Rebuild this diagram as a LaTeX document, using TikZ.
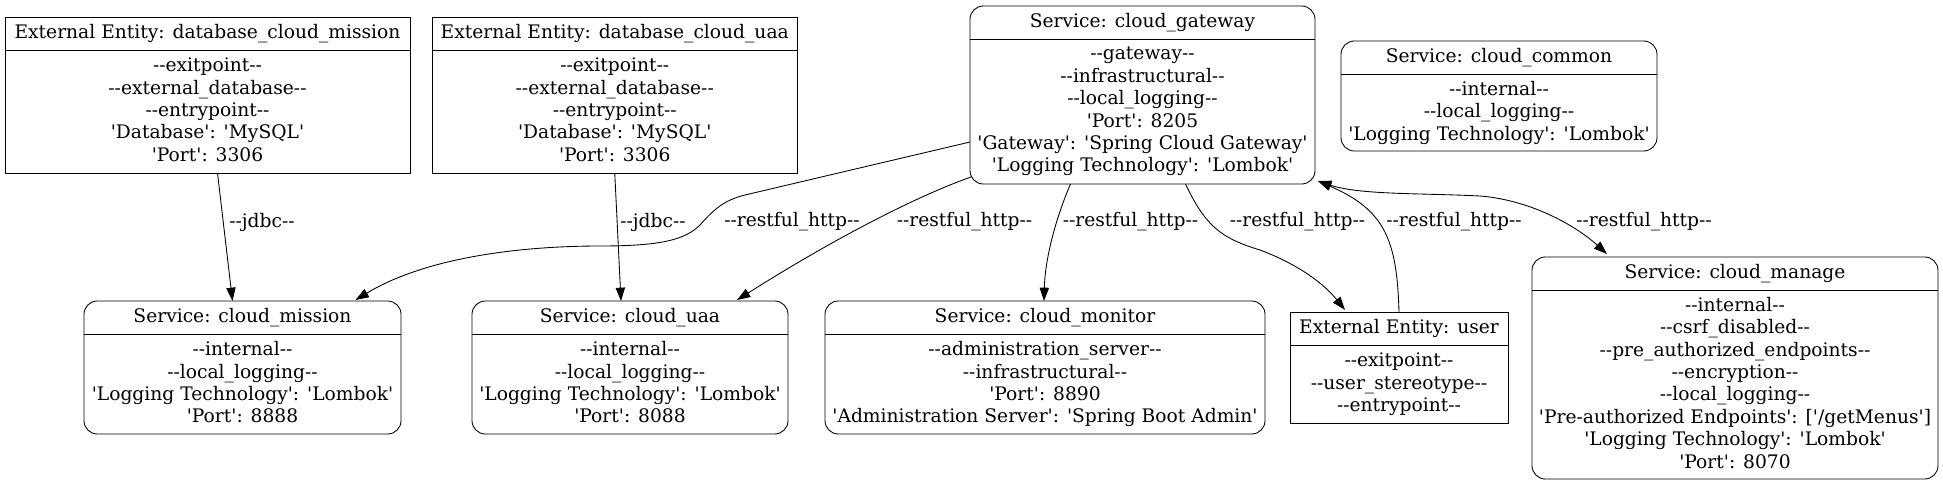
\documentclass[tikz,border=0pt]{standalone}
\usepackage{fontspec}
\newfontfamily\dv{DejaVu Serif}
\usetikzlibrary{arrows.meta,calc}
\begin{document}
\begin{tikzpicture}[x=0.75pt,y=-0.75pt,
  boxbase/.style={draw, line width=0.65pt, inner sep=0pt, outer sep=0pt},
  svc/.style={boxbase, rounded corners=10pt},
  ext/.style={boxbase},
  txt/.style={font=\dv\fontsize{14}{16.8}\selectfont, align=center, inner sep=0pt, execute at begin node=\strut, execute at end node=\strut},
  lbl/.style={font=\dv\fontsize{14}{16.8}\selectfont, inner sep=0pt},
  conn/.style={draw, line width=0.65pt, -{Triangle[length=10pt,width=7pt]}},
  conntwo/.style={draw, line width=0.65pt, {Triangle[length=10pt,width=7pt]}-{Triangle[length=10pt,width=7pt]}},
  divline/.style={draw, line width=0.65pt}]
\fill[white] (0,0) rectangle (1943,485);
\useasboundingbox (0,0) rectangle (1943,485);

% boxes
\node[ext, minimum width=303.75pt, minimum height=117pt] (A) at (207.5,95) {};
\node[ext, minimum width=273.4pt, minimum height=117pt] (B) at (614.75,95) {};
\node[svc, minimum width=258.75pt, minimum height=133.5pt] (G) at (1142.5,95) {};
\node[svc, minimum width=237pt, minimum height=82.5pt] (C) at (1499,96) {};
\node[svc, minimum width=237.75pt, minimum height=99.75pt] (Mi) at (242.5,367.5) {};
\node[svc, minimum width=237pt, minimum height=99.75pt] (U) at (630,367.5) {};
\node[svc, minimum width=330pt, minimum height=99.75pt] (Mo) at (1045,367.5) {};
\node[ext, minimum width=163.5pt, minimum height=83.25pt] (Us) at (1399,367.5) {};
\node[svc, minimum width=304.5pt, minimum height=166.5pt] (M) at (1735,368) {};

% dividers
\foreach \n in {A,B,G,C,Mi,U,Mo,Us,M}
  \draw[divline] ($(\n.north west)+(0,33)$) -- ($(\n.north east)+(0,33)$);

% texts
\node[txt] (Ah) at (207.5,34) {External Entity: database\_cloud\_mission};
\node[txt] (Ab) at (207.5,113) {--exitpoint--\\--external\_database--\\--entrypoint--\\'Database': 'MySQL'\\'Port': 3306};
\node[txt] (Bh) at (614.75,34) {External Entity: database\_cloud\_uaa};
\node[txt] (Bb) at (614.75,113) {--exitpoint--\\--external\_database--\\--entrypoint--\\'Database': 'MySQL'\\'Port': 3306};
\node[txt] (Gh) at (1142.5,23) {Service: cloud\_gateway};
\node[txt] (Gb) at (1142.5,113) {--gateway--\\--infrastructural--\\--local\_logging--\\'Port': 8205\\'Gateway': 'Spring Cloud Gateway'\\'Logging Technology': 'Lombok'};
\node[txt] (Ch) at (1499,58) {Service: cloud\_common};
\node[txt] (Cb) at (1499,114) {--internal--\\--local\_logging--\\'Logging Technology': 'Lombok'};
\node[txt] (Mih) at (242.5,318) {Service: cloud\_mission};
\node[txt] (Mib) at (242.5,385.5) {--internal--\\--local\_logging--\\'Logging Technology': 'Lombok'\\'Port': 8888};
\node[txt] (Uh) at (630,318) {Service: cloud\_uaa};
\node[txt] (Ub) at (630,385.5) {--internal--\\--local\_logging--\\'Logging Technology': 'Lombok'\\'Port': 8088};
\node[txt] (Moh) at (1045,318) {Service: cloud\_monitor};
\node[txt] (Mob) at (1045,385.5) {--administration\_server--\\--infrastructural--\\'Port': 8890\\'Administration Server': 'Spring Boot Admin'};
\node[txt] (Ush) at (1399,329) {External Entity: user};
\node[txt] (Usb) at (1399,385.5) {--exitpoint--\\--user\_stereotype--\\--entrypoint--};
\node[txt] (Mh) at (1735,274) {Service: cloud\_manage};
\node[txt] (Mb) at (1735,386) {--internal--\\--csrf\_disabled--\\--pre\_authorized\_endpoints--\\--encryption--\\--local\_logging--\\'Pre-authorized Endpoints': ['/getMenus']\\'Logging Technology': 'Lombok'\\'Port': 8070};

% edge labels
\node[lbl] (l1) at (262,222) {--jdbc--};
\node[lbl] (l2) at (653,222) {--jdbc--};
\node[lbl] (l3) at (792,222) {--restful\_http--};
\node[lbl] (l4) at (964.5,222) {--restful\_http--};
\node[lbl] (l5) at (1130.5,222) {--restful\_http--};
\node[lbl] (l6) at (1297.5,222) {--restful\_http--};
\node[lbl] (l7) at (1454,222) {--restful\_http--};
\node[lbl] (l8) at (1644,222) {--restful\_http--};

% connectors
\draw[conn] ($(A.south)+(10,0)$) -- ($(Mi.north)+(-10,0)$);
\draw[conn] (B.south) -- ($(U.north)+(-9,0)$);
\draw[conn] ($(G.west)+(0,47)$) -- (745,195) .. controls (725,200) and (715,208) .. (700,225) .. controls (685,240) and (660,246) .. (600,246) .. controls (530,246) and (430,255) .. ($(Mi.north)+(113,-1)$);
\draw[conn] ($(G.south west)+(1,-7)$) .. controls (920,195) and (840,235) .. ($(U.north)+(107,-1)$);
\draw[conn] ($(G.south)+(-72,0)$) .. controls (1055,220) and (1045,260) .. ($(Mo.north)+(-1,0)$);
\draw[conn] ($(G.south)+(43,0)$) .. controls (1205,225) and (1220,238) .. (1260,250) .. controls (1300,265) and (1325,285) .. ($(Us.north)+(-54,-2)$);
\draw[conn] (Us.north) .. controls (1397,240) and (1385,210) .. ($(G.south east)+(3,-3)$);
\draw[conntwo] ($(G.south east)+(3,-3)$) .. controls (1360,195) and (1420,193) .. (1480,196) .. controls (1530,200) and (1575,225) .. ($(M.north)+(-128,-3)$);
\end{tikzpicture}
\end{document}
